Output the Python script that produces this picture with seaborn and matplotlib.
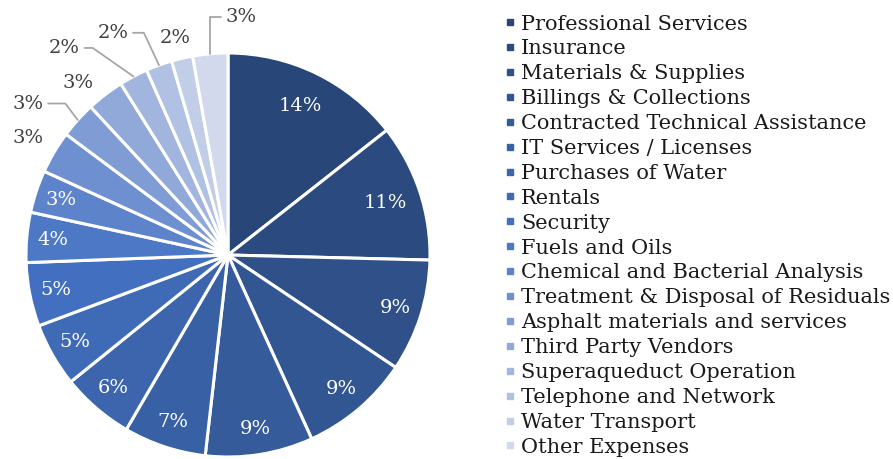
import matplotlib
matplotlib.use("Agg")
import matplotlib.pyplot as plt
from matplotlib.lines import Line2D
import seaborn as sns
import numpy as np

# Expense categories and their share of the total (percent)
categories = [
    "Professional Services", "Insurance", "Materials & Supplies",
    "Billings & Collections", "Contracted Technical Assistance",
    "IT Services / Licenses", "Purchases of Water", "Rentals", "Security",
    "Fuels and Oils", "Chemical and Bacterial Analysis",
    "Treatment & Disposal of Residuals", "Asphalt materials and services",
    "Third Party Vendors", "Superaqueduct Operation",
    "Telephone and Network", "Water Transport", "Other Expenses",
]
shares = [14.4, 11.0, 9.0, 8.8, 8.6, 6.6, 5.8, 5.1, 5.1, 4.0,
          3.4, 3.4, 2.9, 3.0, 2.3, 2.1, 1.7, 2.8]
pct_labels = [f"{round(v)}%" for v in shares]

# Layout for the labels that sit outside the pie (index: (x, y, leader angle or None))
outside = {
    11: (-0.99, 0.58, None),
    12: (-0.99, 0.75, 127),
    13: (-0.74, 0.85, None),
    14: (-0.81, 1.025, 145),
    15: (-0.57, 1.10, 115),
    16: (-0.26, 1.075, None),
    17: (0.065, 1.18, 90),
}

sns.set_theme(style="white")
plt.rcParams["font.family"] = ["DejaVu Serif"]

palette = sns.blend_palette(["#284677", "#4472c4", "#d3d9ec"], len(shares))

fig = plt.figure(figsize=(8.93, 4.59), dpi=100)
# pie: centre (228, 255) px, radius 202 px
ax = fig.add_axes([26 / 893, 2 / 459, 404 / 893, 404 / 459])

wedges, _ = ax.pie(shares, colors=palette, startangle=90, counterclock=False,
                   wedgeprops=dict(edgecolor="white", linewidth=2.2))
ax.set_xlim(-1, 1)
ax.set_ylim(-1, 1)
ax.set_aspect("equal")
ax.axis("off")

for i, (w, lab) in enumerate(zip(wedges, pct_labels)):
    mid = np.deg2rad((w.theta1 + w.theta2) / 2)
    if i in outside:
        tx, ty, ang = outside[i]
        ex, ey = np.cos(mid), np.sin(mid)
        arrow = None
        if ang is not None:
            arrow = dict(arrowstyle="-", color="#a6a6a6", lw=1.3, shrinkA=1, shrinkB=0,
                         connectionstyle=f"angle,angleA=0,angleB={ang},rad=0")
        ax.annotate(lab, xy=(ex, ey), xytext=(tx, ty), ha="center", va="center",
                    fontsize=14, color="#404040", arrowprops=arrow,
                    annotation_clip=False)
    else:
        r = 0.82 if i < 2 else 0.87
        ax.text(r * np.cos(mid), r * np.sin(mid), lab, ha="center", va="center",
                fontsize=14, color="white")

handles = [Line2D([], [], marker="s", linestyle="none", markersize=5,
                  markerfacecolor=c, markeredgecolor=c) for c in palette]
fig.legend(handles, categories, loc="upper left", bbox_to_anchor=(492 / 893, 1 - 2 / 459),
           frameon=False, fontsize=15, handlelength=0.5, handletextpad=0.3,
           labelspacing=0.283, borderaxespad=0.2, labelcolor="#1a1a1a")

fig.savefig("out.png", dpi=100)
